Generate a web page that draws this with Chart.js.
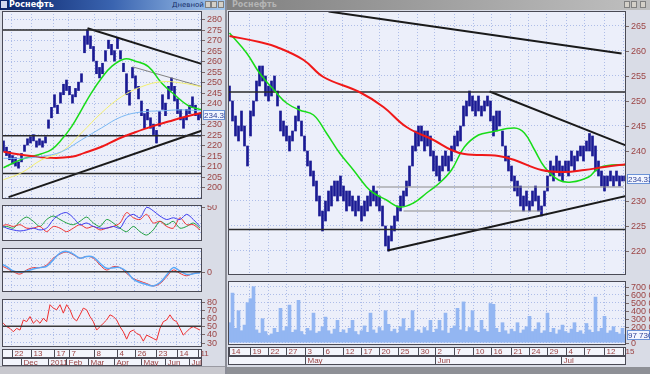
<!DOCTYPE html>
<html><head><meta charset="utf-8">
<script src="https://cdn.jsdelivr.net/npm/chart.js@4.4.1/dist/chart.umd.min.js"></script>
<style>
html,body{margin:0;padding:0;width:650px;height:374px;overflow:hidden;background:#d9dce6;font-family:"Liberation Sans",Arial,sans-serif;}
canvas{position:absolute;}
.a{position:absolute;}
.tt{position:absolute;font:bold 8px "DejaVu Sans";line-height:10px;white-space:nowrap;}
.btn{position:absolute;top:1px;width:6px;height:7px;background:#d4d0c8;border:1px solid #808080;box-sizing:border-box;}
</style></head>
<body>
<!-- window frames -->
<div class="a" style="left:0;top:0;width:225px;height:10px;background:linear-gradient(90deg,#0a246a 0%,#3a64b0 50%,#a6caf0 100%);"></div>
<div class="a" style="left:1px;top:1px;width:6px;height:7px;background:#d0d8f0;"></div>
<div class="tt" style="left:9px;top:0;color:#fff;">Роснефть</div>
<div class="tt" style="left:172px;top:0;color:#18306a;font:7px 'DejaVu Sans';line-height:10px;">Дневной</div>
<div class="btn" style="left:205px"></div><div class="btn" style="left:211px"></div><div class="btn" style="left:218px"></div>
<div class="a" style="left:225px;top:0;width:2px;height:374px;background:#8a8c96;"></div>
<div class="a" style="left:227px;top:0;width:423px;height:10px;background:linear-gradient(90deg,#808080,#c0c0c0);"></div>
<div class="tt" style="left:232px;top:0;color:#b4b4b4;">Роснефть</div>
<div class="btn" style="left:624px"></div><div class="btn" style="left:631px"></div><div class="btn" style="left:640px"></div>
<div class="a" style="left:0;top:366px;width:225px;height:8px;background:#c8c8ce;border-top:1px solid #9a9aa2;box-sizing:border-box;"></div>
<div class="a" style="left:227px;top:367px;width:423px;height:7px;background:#8e9096;"></div>

<canvas id="lm" width="223" height="188" style="left:2px;top:11px"></canvas>
<canvas id="l1" width="223" height="36" style="left:2px;top:205px"></canvas>
<canvas id="l2" width="223" height="44" style="left:2px;top:248px"></canvas>
<canvas id="l3" width="223" height="67" style="left:2px;top:299px"></canvas>
<canvas id="rm" width="422" height="264" style="left:228px;top:11px"></canvas>
<canvas id="rv" width="422" height="85" style="left:228px;top:281px"></canvas>

<script>
// ================= DATA =================
// Left window (daily), bar index 0..66
const leftLow  = [217,215,213,211,210,209,212,217,220,221,222,219,220,219,221,228,233,238,235,240,244,246,244,240,243,246,250,264,268,266,260,254,252,254,260,266,263,260,266,261,255,244,239,252,247,242,234,228,232,228,225,221,229,237,234,242,246,241,235,232,228,232,235,238,234,232,233];
const leftHigh = [222,219,217,215,214,212,216,220,223,224,225,222,223,222,224,232,238,244,239,245,249,251,248,244,247,250,254,272,275,272,267,260,257,259,265,270,268,265,271,265,259,254,246,257,253,248,241,235,237,233,230,227,236,244,240,248,252,248,242,237,233,237,239,243,239,235,235];
const leftMaRed    = [[0,216.8],[6,215.4],[16,213.9],[22.7,214.4],[27,216.3],[32.7,219.2],[38.3,223],[43.7,226],[49.3,228.8],[55,231.2],[60.3,233.4],[66,235.4]];
const leftMaGreen  = [[0,209.2],[6,213.2],[12.7,215.9],[16,217.8],[19.3,222.5],[22.7,228.8],[26,236.8],[29.3,244.9],[32.7,252],[36,257.4],[40.3,261],[43.7,260.1],[48.3,257.4],[52.7,249.6],[57,244],[61.7,238.7],[66,236.8]];
const leftMaYellow = [[0,203.5],[6,206.8],[12.7,213],[19.3,216.8],[26,225.8],[32.7,235.4],[39.3,243],[46,247.8],[52.7,250.2],[59.3,249.6],[66,247.8]];
const leftMaBlue   = [[0,213.7],[6,213.7],[12.7,214.6],[19.3,216.8],[26,222.5],[32.7,228.2],[39.3,233.5],[46,235.8],[52.7,236.3],[59.3,236.8],[66,236.3]];
const leftLevels   = [274.9, 224.4, 206.5];
const leftTrendTop = [[28,275.7],[66,258.7]];
const leftTrendGray= [[43,257.3],[66,247.9]];
const leftTrendUp  = [[1.7,195.2],[66,226.8]];
const leftLast = 234.33;
const leftPriceTicks = [200,205,210,215,220,225,230,240,245,250,255,260,265,270,275,280];
// Left oscillators
const dmiBlue  = [29,25,22.9,21.7,22.9,25,22.9,25,35.1,41.1,43.1,37.1,29,31,27,25,25,27,25,37.1,41.1,37.1,49.2,45.2,39.1,35.1,37.1,35.1,41.1,35.1,27];
const dmiRed   = [27,29,27,29,25,25,27,20.9,27,25,20.9,25,29,25,27,22.9,25,27,31,43.1,37.1,35.1,41.1,31,33,27,25,37.1,29,29,22.9];
const dmiGreen = [25,27,25,33,37.9,33,27,35.1,39.1,35.1,31,29,33,37.9,31,27,35.1,31,25,20.9,27,20.9,16.9,23,33,29,33,25,27,31,25];
const macdRed  = [2,1,0,-0.7,0.5,1.2,1.2,2,4,5.2,5.8,5,4,4.5,4,2,0.5,1.5,1.2,-0.5,-2,-2.8,-3.5,-4.2,-3.5,-1.5,0.5,-0.5,-1.2,-0.5,-0.2];
const macdBlue = [2.5,1.5,0.2,-0.2,0.2,0.8,1.2,1.6,3.5,5.5,6,5.2,4,4.5,4.3,2.5,1,1.2,1.2,0,-2.2,-3.2,-3.8,-4.2,-3.2,-1,1.2,0.2,-0.8,-0.6,-0.3];
const rsiRed   = [55.8,53.8,49.6,47.5,43.3,47.5,45.4,57.9,55.8,62.1,53.8,57.9,53.8,60,55.8,76.7,72.5,70.4,76.7,66.3,76.7,70.4,60,56.7,64.2,72.5,70.4,62.1,55.8,45.4,49.6,53.8,57.9,64.2,62.1,57.9,49.6,43.3,34.2,43.3,45.4,41.3,39.2,31.7,39.2,37.1,35,32.9,47.5,55.8,57.9,64.2,57.9,55.8,47.5,39.2,43.3,47.5,49.6,47.5,45.4];
const dmiTicks = [50];
const macdTicks = [0];
const rsiTicks = [30,40,50,60,70,80];
const leftDayLabels = ['22','13','17','7','8','4','26','23','14','11'];
const leftDayPos    = [2.7,9.3,16.7,21.7,30.3,37.7,43.7,51,57.7,65];
const leftMonLabels = ['Dec','2011','Feb','Mar','Apr','May','Jun','Jul'];
const leftMonPos    = [6,15,21,28.3,37,46,53.7,62];

// Right window (intraday), bar index 0..132
const rightLow  = [250,246,243,242,244,241,237,243,247,250, 253,254,251,250,251,252,249,244,243,242, 240,242,244,246,243,240,237,235,233,230, 227,224,226,228,229,231,230,231,230,228, 229,228,227,228,226,227,228,229,230,229, 228,225,221,220,222,224,226,228,229,231, 233,237,240,241,242,240,241,239,236,235, 234,236,237,236,238,240,241,242,245,247, 249,248,247,248,247,248,249,246,243,244, 245,241,238,236,234,232,231,229,228,229, 228,229,230,228,227,229,232,235,234,236, 235,234,236,235,237,236,238,239,238,240, 240,239,236,235,233,232,233,234,233,234, 233,234,234];
const rightHigh = [253,250,247,245,248,245,241,248,250,254, 257,257,255,253,254,255,252,248,246,245, 243,244,247,249,246,243,240,238,236,234, 231,228,230,232,233,234,234,235,233,232, 232,231,230,231,229,230,231,232,233,232, 231,229,225,223,225,227,229,231,232,234, 237,241,244,245,245,244,244,243,240,239, 237,239,240,239,241,243,244,245,249,250, 252,251,250,251,249,250,251,250,247,248, 248,244,241,239,237,235,234,233,231,232, 230,232,233,231,229,232,235,238,237,239, 238,237,238,238,240,239,240,241,241,242, 243.5,243,241,238,236,235,235,236,235,236, 235,235,235];
const rightVolume = [250,620,180,400,150,220,500,550,700,160, 120,300,140,90,110,180,130,430,150,200, 470,130,160,530,140,100,180,150,370,120, 140,200,320,150,110,170,280,130,160,120, 180,280,140,100,150,210,130,370,160,120, 190,150,400,230,140,170,120,200,300,150, 180,400,140,160,120,190,150,280,130,170, 280,150,370,120,180,210,430,160,510,140, 190,400,150,130,280,170,140,490,480,180, 130,250,150,110,170,140,250,120,160,200, 330,140,170,250,120,150,370,130,180,110, 160,220,140,120,170,250,130,150,110,240, 160,130,570,140,180,330,120,150,200,130, 110,180,98].map(v => v * 1000);
const rightMaRed   = [[0,263],[10,261.8],[15.7,260.8],[24.7,258.2],[31.3,254.8],[43.3,251.8],[51.3,248.8],[59,244.8],[68,242.2],[74,240.2],[78.3,239.4],[89.7,239],[95,238.2],[104,236.2],[111.7,235.8],[118.3,236.2],[125,236.8],[132.7,237.4]];
const rightMaGreen = [[0,263.6],[5.7,259.6],[10,255.6],[15.7,251.6],[19,249.6],[23.3,248.2],[28,247.2],[32.3,243.6],[36.7,239.6],[41.3,236.2],[45.7,232.8],[48,231.6],[52.3,230.2],[56.7,228.8],[61.3,229.6],[65.7,231.6],[70,233.6],[74,236.2],[78.3,240.8],[83,243.2],[87.3,243.8],[95,244.6],[98.3,243.6],[101.7,240.2],[105,236.8],[109.7,234.2],[114,233.8],[119.7,234.8],[123,236.6],[127.3,237.2],[132.7,237.2]];
const rightLevels    = [251.8, 224.3];
const rightTrendTop  = [[33,267.9],[130.7,259.5]];
const rightTrendDown = [[86.7,251.9],[133,240.9]];
const rightTrendUp   = [[52.7,220.1],[133,231.1]];
const rightGray1 = [[49,232.8],[131.3,232.8]];
const rightGray2 = [[58,228],[104,228]];
const rightLast = 234.33;
const rightLastVol = 97730;
const rightPriceTicks = [220,225,230,240,245,250,255,260,265];
const volumeTicks = [0,200000,300000,400000,500000,600000,700000];
const rightDayLabels = ['14','19','22','27','3','6','12','17','20','25','30','2','7','10','16','21','24','29','4','7','12','15'];
const rightDayPos    = [0,6.7,13,19,25.3,31.3,37.7,44,50,56.3,62.7,68.5,75,81.3,87.3,93.7,99.7,105.7,112.3,118.3,125,131.3];
const rightMonLabels = ['May','Jun','Jul'];
const rightMonPos    = [25.3,68.5,110.5];

// ================= RENDER =================
const PLOT_BG = '#eceffa', GRID = '#aebde8', FRAME = '#4a4a55', LABEL = '#9b4444', FONT = '9px "Liberation Sans"';
const CFG = {};
const pairs = p => p.map(a => ({x: a[0], y: a[1]}));
const seq = (vals, x0, step) => vals.map((v, k) => ({x: x0 + k * step, y: v}));
const bars = (lo, hi) => lo.map((l, k) => ({x: k, y: [l, hi[k]]}));
const hline = (v, x0, x1) => [{x: x0, y: v}, {x: x1, y: v}];
const line = (data, color, w, tension) => ({type: 'line', data, borderColor: color, borderWidth: w, pointRadius: 0, tension: tension || 0, fill: false, order: 1});
const fmtSpace = v => String(v).replace(/\B(?=(\d{3})+(?!\d))/g, ' ');

const deco = {
  id: 'deco',
  beforeDraw(c) {
    const a = c.chartArea, ctx = c.ctx;
    ctx.save(); ctx.fillStyle = PLOT_BG;
    ctx.fillRect(a.left, a.top, a.right - a.left, a.bottom - a.top); ctx.restore();
  },
  afterDraw(c) {
    const o = CFG[c.canvas.id], a = c.chartArea, ctx = c.ctx, ys = c.scales.y, xs = c.scales.x;
    ctx.save();
    ctx.lineWidth = 1; ctx.strokeStyle = FRAME;
    ctx.strokeRect(a.left + 0.5, a.top + 0.5, a.right - a.left - 1, a.bottom - a.top - 1);
    ctx.font = FONT; ctx.textBaseline = 'middle'; ctx.textAlign = 'left';
    (o.ticks || []).forEach(v => {
      const py = Math.round(ys.getPixelForValue(v)) + 0.5;
      ctx.strokeStyle = '#7a6a6a'; ctx.beginPath(); ctx.moveTo(a.right, py); ctx.lineTo(a.right + 3, py); ctx.stroke();
      ctx.fillStyle = LABEL; ctx.fillText(o.fmt ? fmtSpace(v) : String(v), a.right + 5, py + 0.5);
    });
    ctx.font = '8px "Liberation Sans"';
    (o.boxes || []).forEach(b => {
      const py = Math.round(ys.getPixelForValue(b.v));
      ctx.fillStyle = '#f2f6ff'; ctx.fillRect(a.right + 1, py - 5, b.w, 10);
      ctx.strokeStyle = '#6b92d6'; ctx.strokeRect(a.right + 1.5, py - 4.5, b.w - 1, 9);
      ctx.fillStyle = '#2c3f96'; ctx.fillText(b.t, a.right + 2, py + 0.5);
    });
    if (o.dates) {
      let top = a.bottom + 2;
      o.dates.forEach(r => {
        ctx.fillStyle = '#f3f5fc'; ctx.fillRect(a.left, top, a.right - a.left, r.h);
        ctx.strokeStyle = FRAME; ctx.strokeRect(a.left + 0.5, top + 0.5, a.right - a.left - 1, r.h - 1);
        r.pos.forEach((p, k) => {
          const px = Math.round(xs.getPixelForValue(p)) + 0.5;
          ctx.strokeStyle = FRAME; ctx.beginPath(); ctx.moveTo(px, top); ctx.lineTo(px, top + r.h); ctx.stroke();
          ctx.fillStyle = LABEL; ctx.fillText(r.labels[k], px + 2, top + r.h / 2 + 0.5);
        });
        top += r.h;
      });
    }
    ctx.restore();
  }
};

function make(id, datasets, o) {
  CFG[id] = o;
  return new Chart(document.getElementById(id), {
    type: 'bar',
    data: {datasets},
    plugins: [deco],
    options: {
      responsive: false, animation: false, events: [],
      layout: {padding: {top: 0, left: 0, right: 0, bottom: o.padB || 0}},
      plugins: {legend: {display: false}, tooltip: {enabled: false}},
      scales: {
        x: {type: 'linear', min: o.x[0], max: o.x[1], offset: false,
            grid: {color: GRID, drawTicks: false, offset: false, lineWidth: 1},
            border: {display: false, dash: [1, 2]}, ticks: {display: false},
            afterBuildTicks: s => { s.ticks = o.xGrid.map(v => ({value: v})); },
            afterFit: s => { s.height = 0; }},
        y: {type: 'linear', position: 'right', min: o.y[0], max: o.y[1],
            grid: {color: GRID, drawTicks: false, lineWidth: 1},
            border: {display: false, dash: [1, 2]}, ticks: {display: false},
            afterBuildTicks: s => { s.ticks = o.yGrid.map(v => ({value: v})); },
            afterFit: s => { s.width = o.axisW; }}
      }
    }
  });
}

const LX = [-0.5, 66.17], RX = [-0.5, 132.17];
const NAVY = '#1a1a94';

// Left main
make('lm', [
  line(pairs(leftMaBlue), '#7ab8f4', 1, 0.4),
  line(pairs(leftMaYellow), '#f4f070', 1, 0.4),
  line(pairs(leftMaRed), '#f01818', 2, 0.4),
  line(pairs(leftMaGreen), '#18dc18', 1.5, 0.4),
  ...leftLevels.map(v => line(hline(v, -0.5, 66.17), '#2a2a2a', 1.5)),
  line(pairs(leftTrendTop), '#1a1a1a', 2),
  line(pairs(leftTrendGray), '#808080', 1),
  line(pairs(leftTrendUp), '#1a1a1a', 2),
  {type: 'bar', data: bars(leftLow, leftHigh), backgroundColor: NAVY, barThickness: 2, grouped: false, order: 5}
], {x: LX, y: [194.3, 283.9], axisW: 23, xGrid: leftDayPos, yGrid: [195,200,205,210,215,220,225,230,235,240,245,250,255,260,265,270,275,280],
    ticks: leftPriceTicks, boxes: [{v: leftLast, t: leftLast.toFixed(2), w: 22}]});

// Left oscillator 1 (three lines)
make('l1', [
  line(seq(dmiBlue, -1.167, 2.222), '#3c3cf0', 1, 0.3),
  line(seq(dmiRed, -1.167, 2.222), '#f03030', 1, 0.3),
  line(seq(dmiGreen, -1.167, 2.222), '#20a040', 1, 0.3)
], {x: LX, y: [10, 52], axisW: 23, xGrid: leftDayPos, yGrid: [20, 30, 40, 50], ticks: dmiTicks});

// Left oscillator 2 (MACD-like)
make('l2', [
  line(hline(0, -0.5, 66.17), '#3a3a3a', 1.5),
  line(seq(macdBlue, -1.167, 2.222), '#58a8f8', 1.5, 0.4),
  line(seq(macdRed, -1.167, 2.222), '#f03838', 1, 0.4)
], {x: LX, y: [-6, 7], axisW: 23, xGrid: leftDayPos, yGrid: [-4, -2, 0, 2, 4, 6], ticks: macdTicks});

// Left oscillator 3 (RSI-like) + date rows
make('l3', [
  line(hline(50, -0.5, 66.17), '#3a3a3a', 1.5),
  line(seq(rsiRed, -1.167, 1.111), '#f03030', 1, 0)
], {x: LX, y: [24.5, 83.75], axisW: 23, padB: 19, xGrid: leftDayPos, yGrid: [30, 40, 50, 60, 70, 80], ticks: rsiTicks,
    dates: [{h: 9, pos: leftDayPos, labels: leftDayLabels}, {h: 8, pos: leftMonPos, labels: leftMonLabels}]});

// Right main
make('rm', [
  line(pairs(rightMaRed), '#f01818', 2, 0.4),
  line(pairs(rightMaGreen), '#18dc18', 1.5, 0.4),
  ...rightLevels.map(v => line(hline(v, -0.5, 132.17), '#2a2a2a', 1.5)),
  line(pairs(rightGray1), '#8a8a8a', 1),
  line(pairs(rightGray2), '#8a8a8a', 1),
  line(pairs(rightTrendTop), '#1a1a1a', 2),
  line(pairs(rightTrendDown), '#1a1a1a', 2),
  line(pairs(rightTrendUp), '#1a1a1a', 2),
  {type: 'bar', data: bars(rightLow, rightHigh), backgroundColor: NAVY, barThickness: 2, grouped: false, order: 5}
], {x: RX, y: [215.2, 268], axisW: 24, xGrid: rightDayPos.slice(1), yGrid: [220,225,230,235,240,245,250,255,260,265],
    ticks: rightPriceTicks, boxes: [{v: rightLast, t: rightLast.toFixed(2), w: 23}]});

// Right volume + date rows
make('rv', [
  {type: 'bar', data: rightVolume.map((v, k) => ({x: k, y: v})), backgroundColor: '#93b6f2', barThickness: 3, grouped: false, order: 5}
], {x: RX, y: [-28750, 771250], axisW: 24, padB: 21, xGrid: rightDayPos.slice(1), yGrid: [0,100000,200000,300000,400000,500000,600000,700000],
    ticks: volumeTicks, fmt: true, boxes: [{v: rightLastVol, t: fmtSpace(rightLastVol), w: 23}],
    dates: [{h: 9, pos: rightDayPos, labels: rightDayLabels}, {h: 9, pos: rightMonPos, labels: rightMonLabels}]});
</script>
</body></html>
